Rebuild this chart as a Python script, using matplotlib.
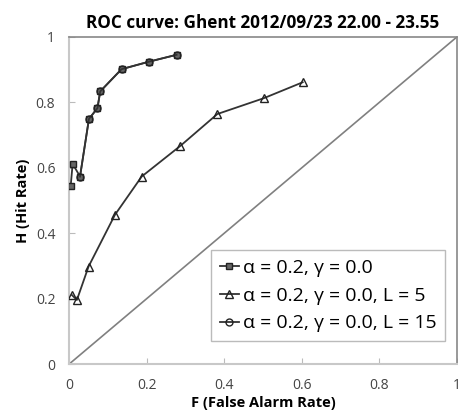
import matplotlib.pyplot as plt

# ROC curve data (F = false alarm rate, H = hit rate)
f1 = [0.004, 0.009, 0.028, 0.051, 0.073, 0.080, 0.135, 0.206, 0.277]
h1 = [0.545, 0.612, 0.573, 0.749, 0.782, 0.833, 0.901, 0.924, 0.945]

f2 = [0.007, 0.020, 0.050, 0.118, 0.187, 0.287, 0.382, 0.501, 0.602]
h2 = [0.211, 0.196, 0.298, 0.456, 0.573, 0.667, 0.764, 0.812, 0.861]

f3 = [0.028, 0.051, 0.073, 0.080, 0.135, 0.206, 0.277]
h3 = [0.573, 0.749, 0.782, 0.833, 0.901, 0.924, 0.945]

labels = ["α = 0.2, γ = 0.0", "α = 0.2, γ = 0.0, L = 5", "α = 0.2, γ = 0.0, L = 15"]
ticks = [0, 0.2, 0.4, 0.6, 0.8, 1]
ticklabels = ["0", "0.2", "0.4", "0.6", "0.8", "1"]

plt.rcParams['font.family'] = ['Open Sans', 'DejaVu Sans']

fig = plt.figure(figsize=(4.58, 4.18), dpi=100)
ax = fig.add_axes([0.151, 0.129, 0.847, 0.783])

ax.plot([0, 1], [0, 1], color='#808080', lw=1.2, zorder=1)
ax.plot(f1, h1, color='#333333', lw=1.3, marker='s', ms=5, mfc='#666666', mec='#222222', label=labels[0], zorder=3)
ax.plot(f2, h2, color='#333333', lw=1.3, marker='^', ms=6, mfc='none', mec='#222222', label=labels[1], zorder=3)
ax.plot(f3, h3, color='#333333', lw=1.3, marker='o', ms=5, mfc='none', mec='#222222', label=labels[2], zorder=4)

ax.set_xlim(0, 1)
ax.set_ylim(0, 1)
ax.set_xticks(ticks)
ax.set_xticklabels(ticklabels)
ax.set_yticks(ticks)
ax.set_yticklabels(ticklabels)
ax.tick_params(direction='in', length=4, color='#bbbbbb', labelsize=10, labelcolor='#444444', pad=10)

for s in ['left', 'bottom']:
    ax.spines[s].set_color('#c8c8c8')
    ax.spines[s].set_linewidth(1.5)
for s in ['top', 'right']:
    ax.spines[s].set_color('#888888')
    ax.spines[s].set_linewidth(1.2)

ax.set_title("ROC curve: Ghent 2012/09/23 22.00 - 23.55", fontsize=12.3, fontweight='bold', pad=6)
ax.set_xlabel("F (False Alarm Rate)", fontsize=10.5, fontweight='bold', labelpad=2)
ax.set_ylabel("H (Hit Rate)", fontsize=10.5, fontweight='bold', labelpad=4)

leg = ax.legend(loc='lower right', bbox_to_anchor=(0.97, 0.07), fontsize=14, frameon=True, fancybox=False,
                handlelength=1.0, handletextpad=0.2, borderpad=0.45, labelspacing=0.5, borderaxespad=0)
leg.get_frame().set_edgecolor('#aaaaaa')
leg.get_frame().set_linewidth(1.0)

plt.savefig("out.png", dpi=100)
